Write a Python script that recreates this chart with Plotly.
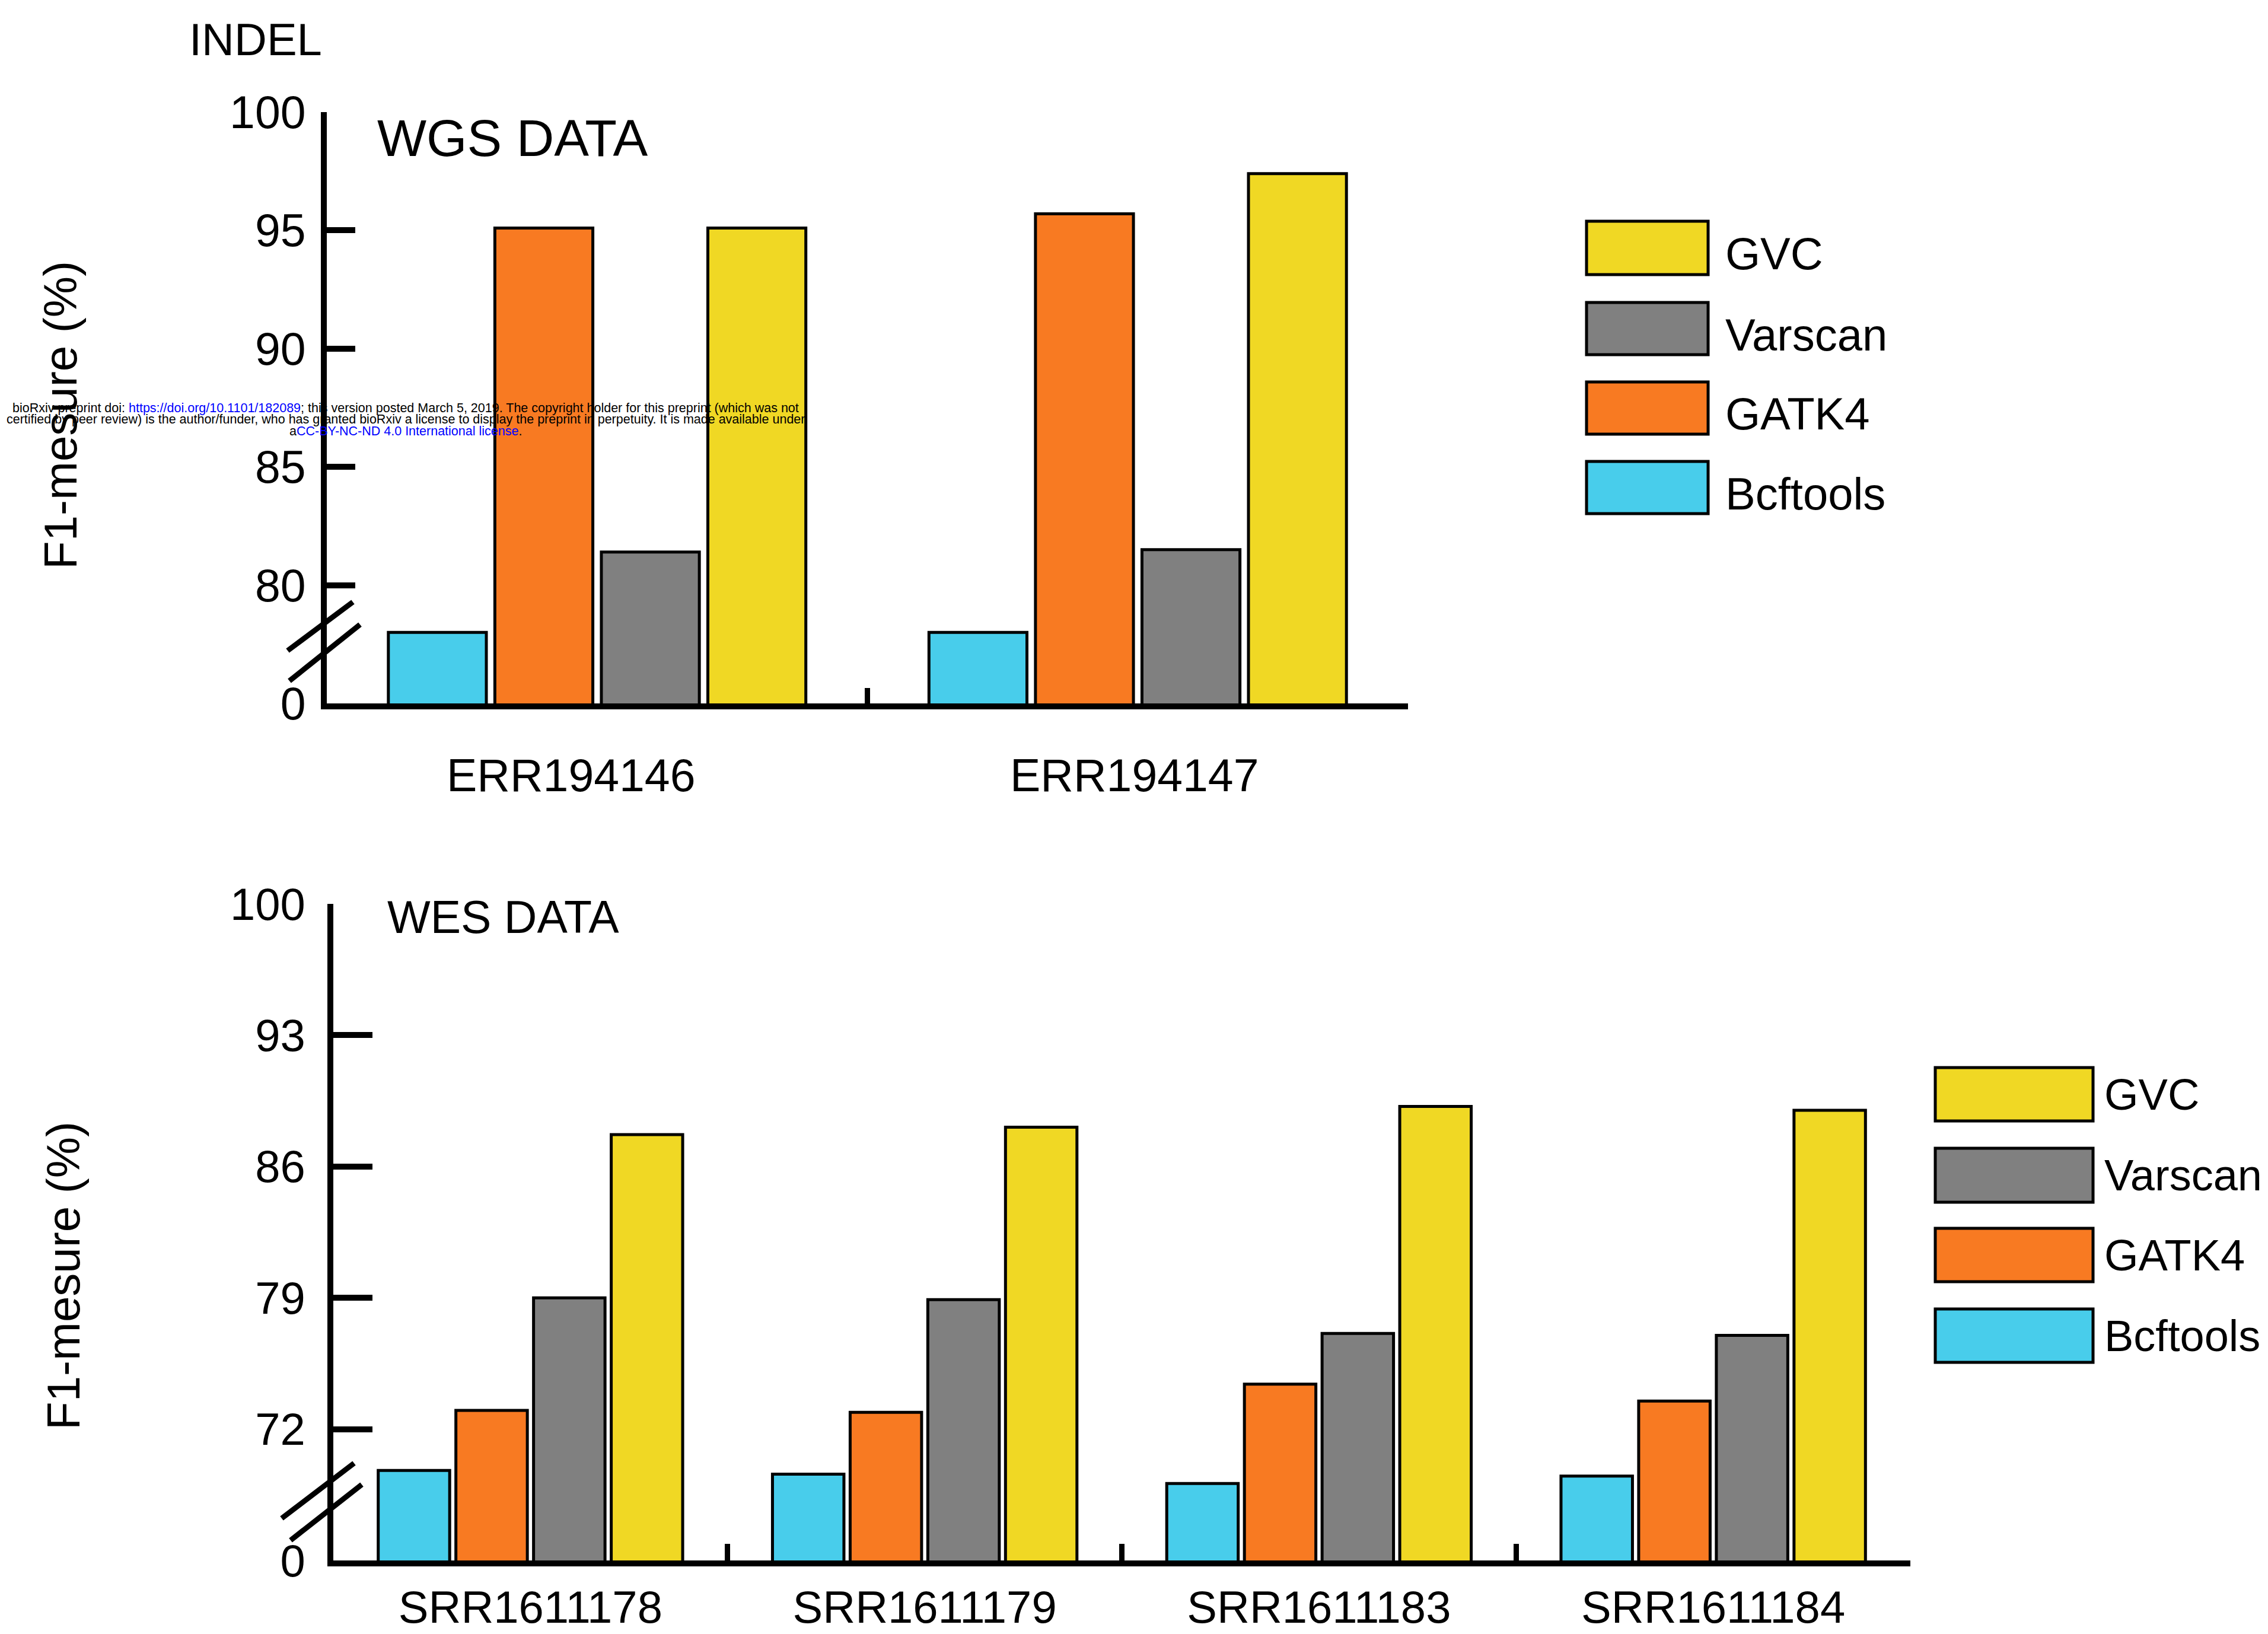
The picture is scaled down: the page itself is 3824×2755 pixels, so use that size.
import plotly.graph_objects as go

# ---------------- data ----------------
tools = ["Bcftools", "GATK4", "Varscan", "GVC"]
legend_order = ["GVC", "Varscan", "GATK4", "Bcftools"]

wgs_categories = ["ERR194146", "ERR194147"]
wgs_bcftools = [78.0, 78.0]
wgs_gatk4 = [95.1, 95.7]
wgs_varscan = [81.4, 81.5]
wgs_gvc = [95.1, 97.4]

wes_categories = ["SRR1611178", "SRR1611179", "SRR1611183", "SRR1611184"]
wes_bcftools = [69.8, 69.6, 69.1, 69.5]
wes_gatk4 = [73.0, 72.9, 74.4, 73.5]
wes_varscan = [79.0, 78.9, 77.1, 77.0]
wes_gvc = [87.7, 88.1, 89.2, 89.0]

wgs_tickvals = [75, 80, 85, 90, 95, 100]
wgs_ticktext = ["0", "80", "85", "90", "95", "100"]
wes_tickvals = [65, 72, 79, 86, 93, 100]
wes_ticktext = ["0", "72", "79", "86", "93", "100"]

colors = {"Bcftools": "#48CDEB", "GATK4": "#F87A22", "Varscan": "#808080", "GVC": "#F0D824"}

# ---------------- layout helpers ----------------
W, H = 3824, 2755
FONT = "Liberation Sans, Arial, Helvetica, sans-serif"


def fx(p):
    return p / W


def fy(p):
    return 1 - p / H


fig = go.Figure()

wgs_values = {"Bcftools": wgs_bcftools, "GATK4": wgs_gatk4, "Varscan": wgs_varscan, "GVC": wgs_gvc}
wes_values = {"Bcftools": wes_bcftools, "GATK4": wes_gatk4, "Varscan": wes_varscan, "GVC": wes_gvc}

for t in tools:
    fig.add_trace(go.Bar(x=wgs_categories, y=wgs_values[t], name=t, xaxis="x", yaxis="y",
                         marker=dict(color=colors[t], line=dict(color="black", width=5)),
                         showlegend=False))
for t in tools:
    fig.add_trace(go.Bar(x=wes_categories, y=wes_values[t], name=t, xaxis="x2", yaxis="y2",
                         marker=dict(color=colors[t], line=dict(color="black", width=5)),
                         showlegend=False))

axis_common = dict(showline=True, linewidth=10, linecolor="black", showgrid=False, zeroline=False,
                   tickcolor="black", automargin=False)

fig.update_layout(
    template="none",
    width=W, height=H,
    margin=dict(l=0, r=0, t=0, b=0, pad=0),
    paper_bgcolor="white", plot_bgcolor="white",
    barmode="group", bargap=0.212, bargroupgap=0.08,
    font=dict(family=FONT, color="black"),
    xaxis=dict(domain=[fx(551), fx(2374)], anchor="y", type="category", range=[-0.5, 1.5],
               ticks="inside", tickson="boundaries", ticklen=26, tickwidth=9,
               showticklabels=False, **axis_common),
    yaxis=dict(domain=[fy(1186), fy(189)], anchor="x", range=[75, 100],
               tickvals=wgs_tickvals, ticktext=wgs_ticktext,
               ticks="inside", ticklen=48, tickwidth=10,
               tickfont=dict(size=77, family=FONT), ticklabelstandoff=10, **axis_common),
    xaxis2=dict(domain=[fx(562), fx(3221)], anchor="y2", type="category", range=[-0.5, 3.5],
                ticks="inside", tickson="boundaries", ticklen=28, tickwidth=9,
                tickfont=dict(size=76, family=FONT), ticklabelstandoff=4, **axis_common),
    yaxis2=dict(domain=[fy(2631), fy(1524)], anchor="x2", range=[65, 100],
                tickvals=wes_tickvals, ticktext=wes_ticktext,
                ticks="inside", ticklen=66, tickwidth=10,
                tickfont=dict(size=76, family=FONT), ticklabelstandoff=22, **axis_common),
)

annotations = []
shapes = []

# WGS category labels (first one sits slightly left of its group in the original)
for cat, shift in zip(wgs_categories, [-44, -5]):
    annotations.append(dict(text=cat, x=cat, xref="x", y=fy(1307), yref="paper",
                            xanchor="center", yanchor="middle", xshift=shift, showarrow=False,
                            font=dict(size=77)))

# titles / labels
annotations.append(dict(text="INDEL", x=fx(317), y=fy(66), xref="paper", yref="paper",
                        xanchor="left", yanchor="middle", showarrow=False, font=dict(size=76)))
annotations.append(dict(text="WGS DATA", x=fx(634), y=fy(232), xref="paper", yref="paper",
                        xanchor="left", yanchor="middle", showarrow=False, font=dict(size=88)))
annotations.append(dict(text="WES DATA", x=fx(651), y=fy(1546), xref="paper", yref="paper",
                        xanchor="left", yanchor="middle", showarrow=False, font=dict(size=77)))
annotations.append(dict(text="F1-mesure (%)", x=fx(102), y=fy(700), xref="paper", yref="paper",
                        xanchor="center", yanchor="middle", textangle=-90, showarrow=False,
                        font=dict(size=78)))
annotations.append(dict(text="F1-mesure (%)", x=fx(107), y=fy(2151), xref="paper", yref="paper",
                        xanchor="center", yanchor="middle", textangle=-90, showarrow=False,
                        font=dict(size=78)))

# legends (custom, large swatches)
top_rows = [(373, 463), (510, 598), (644, 732), (778, 866)]
bot_rows = [(1800, 1890), (1936, 2027), (2071, 2161), (2207, 2297)]
for (x0, x1, tx, fs, dy, rows) in [(2675, 2880, 2907, 76, 10, top_rows),
                                   (3263, 3529, 3546, 74, 0, bot_rows)]:
    for name, (y0, y1) in zip(legend_order, rows):
        shapes.append(dict(type="rect", xref="paper", yref="paper",
                           x0=fx(x0), x1=fx(x1), y0=fy(y1), y1=fy(y0),
                           fillcolor=colors[name], line=dict(color="black", width=5)))
        annotations.append(dict(text=name, x=fx(tx), y=fy((y0 + y1) / 2 + dy), xref="paper",
                                yref="paper", xanchor="left", yanchor="middle", showarrow=False,
                                font=dict(size=fs)))

# axis break marks
for (a, b) in [((485, 1097), (595, 1015)), ((488, 1148), (607, 1053)),
               ((475, 2560), (597, 2467)), ((490, 2597), (610, 2503))]:
    shapes.append(dict(type="line", xref="paper", yref="paper",
                       x0=fx(a[0]), y0=fy(a[1]), x1=fx(b[0]), y1=fy(b[1]),
                       line=dict(color="black", width=9)))

# bioRxiv watermark
blue = "<span style='color:#0000FF'>%s</span>"
wm_lines = [
    "bioRxiv preprint doi: " + blue % "https://doi.org/10.1101/182089"
    + "; this version posted March 5, 2019. The copyright holder for this preprint (which was not",
    "certified by peer review) is the author/funder, who has granted bioRxiv a license to display the preprint in perpetuity. It is made available under",
    "a" + blue % "CC-BY-NC-ND 4.0 International license" + ".",
]
for line, yy in zip(wm_lines, [688, 707, 727]):
    annotations.append(dict(text=line, x=fx(684), y=fy(yy), xref="paper", yref="paper",
                            xanchor="center", yanchor="middle", showarrow=False,
                            font=dict(size=21.5, family="Liberation Sans Narrow, " + FONT)))

fig.update_layout(annotations=annotations, shapes=shapes)

fig.write_html("out.html")
